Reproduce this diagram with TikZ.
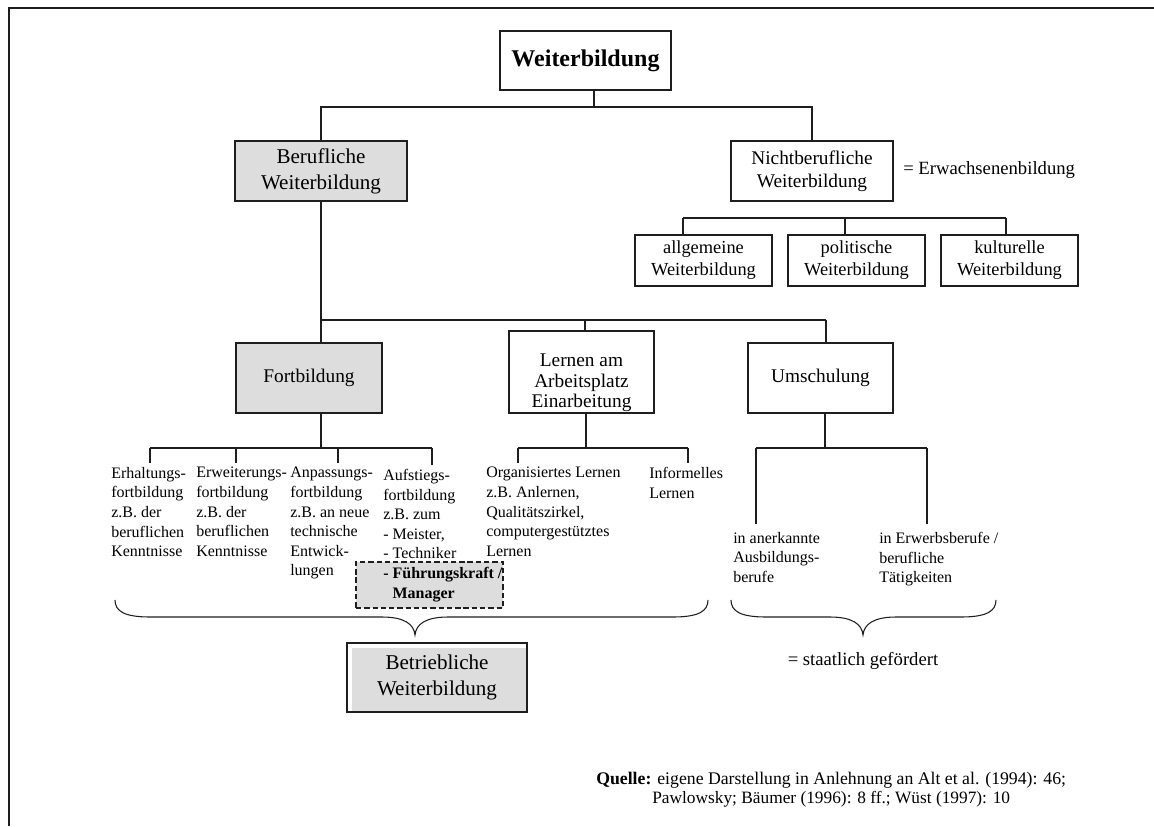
\documentclass[tikz,border=0pt]{standalone}
\usepackage{fontspec}
\setmainfont{Liberation Serif}
\definecolor{boxgray}{RGB}{221,221,221}
\definecolor{ink}{RGB}{30,30,30}
\begin{document}
\begin{tikzpicture}[x=0.75pt,y=-0.75pt,
  box/.style={draw=ink, line width=0.9pt, inner sep=0pt, align=center},
  shaded/.style={box, fill=boxgray},
  link/.style={draw=ink, line width=0.8pt},
  note/.style={inner xsep=0pt, inner ysep=3pt, align=left, anchor=north west,
    font=\fontsize{12}{14.7}\selectfont},
  boxfont/.style={font=\fontsize{14.5}{17.3}\selectfont},
  bigfont/.style={font=\fontsize{15.8}{19.5}\selectfont},
  subfont/.style={font=\fontsize{13.8}{16.5}\selectfont}]
\useasboundingbox (0,0) rectangle (1154,826);

% outer frame (top and left edges)
\draw[ink, line width=1.9pt] (9,826) -- (9,8) -- (1154,8);

% top level
\node[box, minimum width=128.25pt, minimum height=44.25pt,
  font=\fontsize{18}{21}\selectfont\bfseries] (top) at (585.5,60.5) {Weiterbildung};
\node[shaded, bigfont, minimum width=129pt, minimum height=45pt] (beruf) at (321,171) {Berufliche\\Weiterbildung};
\node[box, boxfont, minimum width=121.5pt, minimum height=45pt] (nicht) at (812,171) {Nichtberufliche\\Weiterbildung};
\node[anchor=west, inner sep=0pt, font=\fontsize{14}{16.5}\selectfont] (erwachs) at (903,170) {= Erwachsenenbildung};

% non-vocational branches
\node[box, subfont, minimum width=102.75pt, minimum height=38.25pt] (allg) at (703.5,260.5) {allgemeine\\Weiterbildung};
\node[box, subfont, minimum width=102.75pt, minimum height=38.25pt] (polit) at (856.5,260.5) {politische\\Weiterbildung};
\node[box, subfont, minimum width=102.75pt, minimum height=38.25pt] (kult) at (1009.5,260.5) {kulturelle\\Weiterbildung};

% vocational branches
\node[shaded, boxfont, minimum width=109.5pt, minimum height=52.5pt] (fort) at (309,378) {Fortbildung};
\node[box, minimum width=108.75pt, minimum height=61.5pt] (lern) at (581.5,372) {};
\node[align=center, inner sep=0pt, font=\fontsize{14.5}{15.5}\selectfont] (lerntext) at (581.5,383) {Lernen am\\Arbeitsplatz\\Einarbeitung};
\node[box, boxfont, minimum width=108.75pt, minimum height=52.5pt] (umsch) at (820.5,378) {Umschulung};

% kinds of further training
\node[draw=ink, line width=0.8pt, dash pattern=on 4pt off 2.2pt, fill=boxgray,
  minimum width=110.25pt, minimum height=34.5pt, inner sep=0pt] (fk) at (429.5,585) {};
\node[note] (erh) at (111,463) {Erhaltungs-\\fortbildung\\z.B. der\\beruflichen\\Kenntnisse};
\node[note] (erw) at (196,463) {Erweiterungs-\\fortbildung\\z.B. der\\beruflichen\\Kenntnisse};
\node[note] (anp) at (290,463) {Anpassungs-\\fortbildung\\z.B. an neue\\technische\\Entwick-\\lungen};
\node[note] (auf) at (383,465) {Aufstiegs-\\fortbildung\\z.B. zum\\- Meister,\\- Techniker\\\textbf{- Führungskraft /}\\\textbf{\phantom{- }Manager}};
\node[note] (org) at (486,463) {Organisiertes Lernen\\z.B. Anlernen,\\Qualitätszirkel,\\computergestütztes\\Lernen};
\node[note] (inf) at (649,463) {Informelles\\Lernen};
\node[note, inner ysep=6pt] (ank) at (733,524) {in anerkannte\\Ausbildungs-\\berufe};
\node[note, inner ysep=6pt] (erwb) at (879,524) {in Erwerbsberufe /\\berufliche\\Tätigkeiten};

% company training box
\fill[boxgray] (352,648) rectangle (526,711);
\node[box, bigfont, minimum width=135pt, minimum height=51.75pt] (betr) at (437,677.5) {Betriebliche\\Weiterbildung};
\node[inner sep=0pt, font=\fontsize{14}{16}\selectfont] (staat) at (863,661) {= staatlich gefördert};

% source
\node[anchor=west, inner sep=0pt, font=\fontsize{13.3}{15}\selectfont] (q1) at (596,780) {\textbf{Quelle:} eigene Darstellung in Anlehnung an Alt et al. (1994): 46;};
\node[anchor=west, inner sep=0pt, font=\fontsize{13}{15}\selectfont] (q2) at (652,799) {Pawlowsky; Bäumer (1996): 8 ff.; Wüst (1997): 10};

% connector junctions
\coordinate (t0) at (594,107);
\coordinate (t1) at (321,107);
\coordinate (t2) at (812,107);
\coordinate (n1) at (683,218);
\coordinate (n2) at (845,218);
\coordinate (n3) at (1006,218);
\coordinate (j1) at (321,320);
\coordinate (j2) at (585,320);
\coordinate (j3) at (826,320);
\coordinate (f0) at (321,448);
\coordinate (f1) at (150,448);
\coordinate (f2) at (236,448);
\coordinate (f3) at (338,448);
\coordinate (f4) at (432,448);
\coordinate (l0) at (586,448);
\coordinate (l1) at (518,448);
\coordinate (l2) at (688,448);
\coordinate (u0) at (825,448);
\coordinate (u1) at (756,448);
\coordinate (u2) at (927,448);

% connectors
\draw[link] (top.south -| t0) -- (t0);
\draw[link] (beruf.north) -- (t1) -- (t2) -- (nicht.north);
\draw[link] (n1) -- (n3);
\draw[link] (n1) -- (n1 |- allg.north);
\draw[link] (n2) -- (n2 |- polit.north);
\draw[link] (n3) -- (n3 |- kult.north);
\draw[link] (beruf.south) -- (j1) -- (j3);
\draw[link] (j1) -- (j1 |- fort.north);
\draw[link] (j2) -- (j2 |- lern.north);
\draw[link] (j3) -- (j3 |- umsch.north);
\draw[link] (fort.south -| f0) -- (f0);
\draw[link] (f1) -- (f4);
\draw[link] (f1) -- (f1 |- erh.north);
\draw[link] (f2) -- (f2 |- erw.north);
\draw[link] (f3) -- (f3 |- anp.north);
\draw[link] (f4) -- (f4 |- auf.north);
\draw[link] (lern.south -| l0) -- (l0);
\draw[link] (l1) -- (l2);
\draw[link] (l1) -- (l1 |- org.north);
\draw[link] (l2) -- (l2 |- inf.north);
\draw[link] (umsch.south -| u0) -- (u0);
\draw[link] (u1) -- (u2);
\draw[link] (u1) -- (u1 |- ank.north);
\draw[link] (u2) -- (u2 |- erwb.north);

% braces
\draw[link] (115,600) .. controls (115,611) and (124,617) .. (150,617) -- (382,617)
  .. controls (404,617) and (414,624) .. (415,635)
  .. controls (416,624) and (426,617) .. (448,617) -- (673,617)
  .. controls (699,617) and (708,611) .. (708,600);
\draw[link] (731,600) .. controls (731,611) and (740,617) .. (766,617) -- (830,617)
  .. controls (852,617) and (862,624) .. (863,635)
  .. controls (864,624) and (874,617) .. (896,617) -- (961,617)
  .. controls (987,617) and (996,611) .. (996,600);
\end{tikzpicture}
\end{document}
